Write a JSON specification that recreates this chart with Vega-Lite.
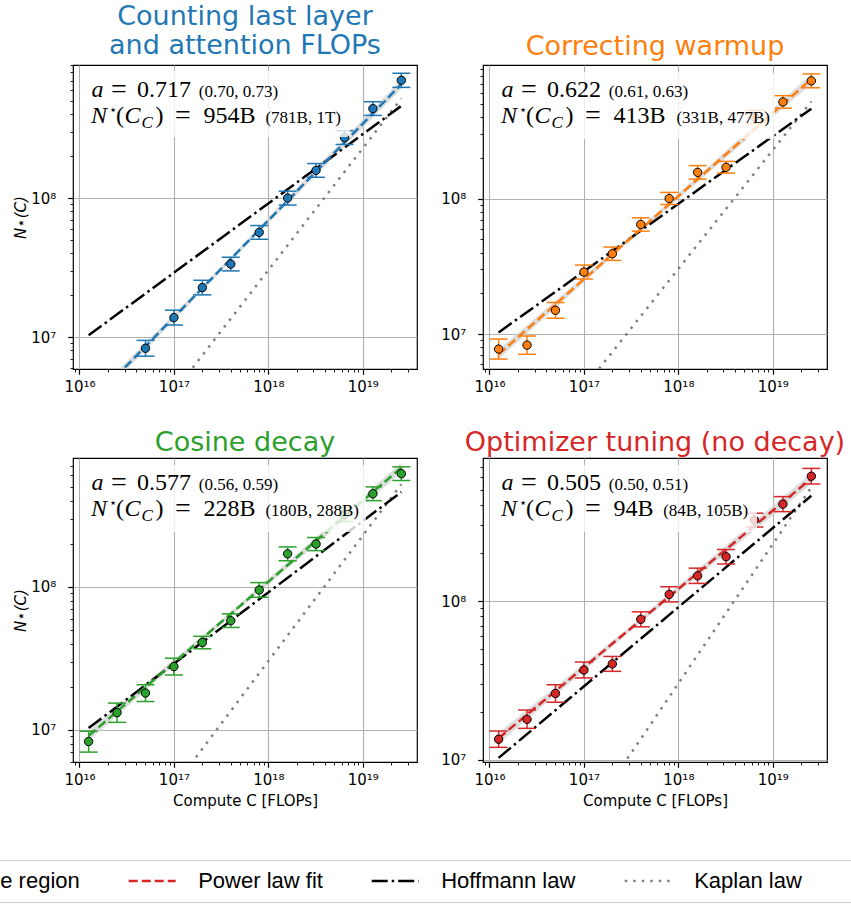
{
"$schema": "https://vega.github.io/schema/vega-lite/v6.json",
"padding": {"left": -167, "top": 2, "right": -9, "bottom": 0},
"background": "white",
"config": {
 "font": "DejaVu Sans",
 "view": {"stroke": "black", "strokeWidth": 1.2},
 "axis": {"domain": false, "labelFont": "DejaVu Sans", "labelFontSize": 15, "labelColor": "black", "tickColor": "black", "gridColor": "#b0b0b0", "gridWidth": 1.1, "labelPadding": 5, "labelFlush": false, "labelOverlap": false, "titleFont": "DejaVu Sans", "titleFontSize": 15, "titleFontWeight": "normal", "titleColor": "black"},
 "axisY": {"titlePadding": 2, "labelPadding": 12},
 "axisX": {"titlePadding": 6},
 "title": {"font": "DejaVu Sans", "fontSize": 27, "fontWeight": "normal", "anchor": "middle", "offset": 1, "lineHeight": 29},
 "text": {"font": "Liberation Serif", "fontSize": 24, "align": "left", "baseline": "alphabetic", "color": "black"}
},
"datasets": {
 "pts": [
  {"panel":1,"C":5e16,"N":8.3e6,"lo":7.28e6,"hi":9.46e6},
  {"panel":1,"C":1e17,"N":1.38e7,"lo":1.22e7,"hi":1.56e7},
  {"panel":1,"C":2e17,"N":2.27e7,"lo":2.01e7,"hi":2.56e7},
  {"panel":1,"C":4e17,"N":3.35e7,"lo":2.99e7,"hi":3.75e7},
  {"panel":1,"C":8e17,"N":5.66e7,"lo":5.05e7,"hi":6.34e7},
  {"panel":1,"C":1.6e18,"N":1.0e8,"lo":8.9e7,"hi":1.12e8},
  {"panel":1,"C":3.2e18,"N":1.58e8,"lo":1.41e8,"hi":1.77e8},
  {"panel":1,"C":6.4e18,"N":2.72e8,"lo":2.43e8,"hi":3.05e8},
  {"panel":1,"C":1.28e19,"N":4.4e8,"lo":3.93e8,"hi":4.93e8},
  {"panel":1,"C":2.56e19,"N":7.03e8,"lo":6.25e8,"hi":7.9e8},
  {"panel":2,"C":1.25e16,"N":7.76e6,"lo":6.55e6,"hi":9.2e6},
  {"panel":2,"C":2.5e16,"N":8.3e6,"lo":7.11e6,"hi":9.69e6},
  {"panel":2,"C":5e16,"N":1.5e7,"lo":1.31e7,"hi":1.71e7},
  {"panel":2,"C":1e17,"N":2.87e7,"lo":2.55e7,"hi":3.23e7},
  {"panel":2,"C":2e17,"N":3.92e7,"lo":3.5e7,"hi":4.39e7},
  {"panel":2,"C":4e17,"N":6.44e7,"lo":5.75e7,"hi":7.21e7},
  {"panel":2,"C":8e17,"N":1.0e8,"lo":9.04e7,"hi":1.11e8},
  {"panel":2,"C":1.6e18,"N":1.56e8,"lo":1.39e8,"hi":1.75e8},
  {"panel":2,"C":3.2e18,"N":1.7e8,"lo":1.54e8,"hi":1.88e8},
  {"panel":2,"C":6.4e18,"N":4.0e8,"lo":3.57e8,"hi":4.48e8},
  {"panel":2,"C":1.28e19,"N":5.16e8,"lo":4.64e8,"hi":5.74e8},
  {"panel":2,"C":2.56e19,"N":7.38e8,"lo":6.56e8,"hi":8.3e8},
  {"panel":3,"C":1.25e16,"N":8.3e6,"lo":7.0e6,"hi":9.8e6},
  {"panel":3,"C":2.5e16,"N":1.32e7,"lo":1.13e7,"hi":1.54e7},
  {"panel":3,"C":5e16,"N":1.81e7,"lo":1.58e7,"hi":2.07e7},
  {"panel":3,"C":1e17,"N":2.77e7,"lo":2.42e7,"hi":3.17e7},
  {"panel":3,"C":2e17,"N":4.08e7,"lo":3.69e7,"hi":4.51e7},
  {"panel":3,"C":4e17,"N":5.8e7,"lo":5.2e7,"hi":6.47e7},
  {"panel":3,"C":8e17,"N":9.5e7,"lo":8.45e7,"hi":1.07e8},
  {"panel":3,"C":1.6e18,"N":1.7e8,"lo":1.52e8,"hi":1.9e8},
  {"panel":3,"C":3.2e18,"N":1.99e8,"lo":1.79e8,"hi":2.21e8},
  {"panel":3,"C":6.4e18,"N":3.2e8,"lo":2.86e8,"hi":3.58e8},
  {"panel":3,"C":1.28e19,"N":4.47e8,"lo":4.0e8,"hi":4.99e8},
  {"panel":3,"C":2.56e19,"N":6.17e8,"lo":5.53e8,"hi":6.89e8},
  {"panel":4,"C":1.25e16,"N":1.35e7,"lo":1.2e7,"hi":1.52e7},
  {"panel":4,"C":2.5e16,"N":1.8e7,"lo":1.58e7,"hi":2.06e7},
  {"panel":4,"C":5e16,"N":2.62e7,"lo":2.31e7,"hi":2.97e7},
  {"panel":4,"C":1e17,"N":3.68e7,"lo":3.28e7,"hi":4.13e7},
  {"panel":4,"C":2e17,"N":4.02e7,"lo":3.61e7,"hi":4.48e7},
  {"panel":4,"C":4e17,"N":7.67e7,"lo":6.88e7,"hi":8.55e7},
  {"panel":4,"C":8e17,"N":1.1e8,"lo":9.87e7,"hi":1.23e8},
  {"panel":4,"C":1.6e18,"N":1.44e8,"lo":1.29e8,"hi":1.61e8},
  {"panel":4,"C":3.2e18,"N":1.9e8,"lo":1.71e8,"hi":2.11e8},
  {"panel":4,"C":6.4e18,"N":3.23e8,"lo":2.92e8,"hi":3.57e8},
  {"panel":4,"C":1.28e19,"N":4.07e8,"lo":3.65e8,"hi":4.54e8},
  {"panel":4,"C":2.56e19,"N":6.1e8,"lo":5.45e8,"hi":6.83e8}
 ],
 "fits": [
  {"panel":1,"C":1.25e16,"N":3.26e6,"lo":3.01e6,"hi":3.53e6},
  {"panel":1,"C":3.2e17,"N":3.12e7,"lo":3.01e7,"hi":3.23e7},
  {"panel":1,"C":2.56e19,"N":6.59e8,"lo":6.08e8,"hi":7.14e8},
  {"panel":2,"C":1.25e16,"N":7.1e6,"lo":6.55e6,"hi":7.69e6},
  {"panel":2,"C":3.2e17,"N":5.18e7,"lo":5.0e7,"hi":5.36e7},
  {"panel":2,"C":2.56e19,"N":7.6e8,"lo":7.01e8,"hi":8.24e8},
  {"panel":3,"C":1.25e16,"N":9.1e6,"lo":8.39e6,"hi":9.86e6},
  {"panel":3,"C":3.2e17,"N":5.7e7,"lo":5.51e7,"hi":5.9e7},
  {"panel":3,"C":2.56e19,"N":6.8e8,"lo":6.27e8,"hi":7.37e8},
  {"panel":4,"C":1.25e16,"N":1.37e7,"lo":1.264e7,"hi":1.485e7},
  {"panel":4,"C":3.2e17,"N":6.79e7,"lo":6.56e7,"hi":7.03e7},
  {"panel":4,"C":2.56e19,"N":5.9e8,"lo":5.44e8,"hi":6.39e8}
 ],
 "laws": [
  {"law":"Hoffmann","C":1.25e16,"N":1.03e7},
  {"law":"Hoffmann","C":2.56e19,"N":4.6e8},
  {"law":"Kaplan","C":1.25e16,"N":6.5e5},
  {"law":"Kaplan","C":2.56e19,"N":5.2e8}
 ],
 "ann": [
  {"panel":1,"a":"0.717","aci":"(0.70, 0.73)","n":"954B","nci":"(781B, 1T)"},
  {"panel":2,"a":"0.622","aci":"(0.61, 0.63)","n":"413B","nci":"(331B, 477B)"},
  {"panel":3,"a":"0.577","aci":"(0.56, 0.59)","n":"228B","nci":"(180B, 288B)"},
  {"panel":4,"a":"0.505","aci":"(0.50, 0.51)","n":"94B","nci":"(84B, 105B)"}
 ],
 "legend": [
  {"series":"Confidence region","C":1e17,"N":1e8},
  {"series":"Power law fit","C":1e17,"N":1e8},
  {"series":"Hoffmann law","C":1e17,"N":1e8},
  {"series":"Kaplan law","C":1e17,"N":1e8}
 ]
},
"spacing": 33,
"vconcat": [
{"spacing": 22, "hconcat": [
{
 "width": 344, "height": 304,
 "title": {"text": ["Counting last layer", "and attention FLOPs"], "color": "#1f77b4", "offset": -2},
 "layer": [
  {"data": {"name": "fits"}, "transform": [{"filter": "datum.panel==1"}],
   "mark": {"type": "area", "color": "#cfcfcf", "opacity": 0.7, "clip": true},
   "encoding": {
    "x": {"field": "C", "type": "quantitative", "scale": {"type": "log", "domain": [8.54e15, 3.75e19], "nice": false},
     "axis": {"values": [9e15,1e16,2e16,3e16,4e16,5e16,6e16,7e16,8e16,9e16,1e17,2e17,3e17,4e17,5e17,6e17,7e17,8e17,9e17,1e18,2e18,3e18,4e18,5e18,6e18,7e18,8e18,9e18,1e19,2e19,3e19], "title": null,
      "labelExpr": "abs(log(datum.value)/LN10-round(log(datum.value)/LN10))<0.001 ? '10'+replace(replace(replace(replace(replace(replace(replace(replace(replace(replace(''+round(log(datum.value)/LN10),'0','⁰'),'1','¹'),'2','²'),'3','³'),'4','⁴'),'5','⁵'),'6','⁶'),'7','⁷'),'8','⁸'),'9','⁹') : ''",
      "tickSize": {"condition": {"test": "abs(log(datum.value)/LN10-round(log(datum.value)/LN10))<0.001", "value": 5.25}, "value": 3},
      "tickWidth": {"condition": {"test": "abs(log(datum.value)/LN10-round(log(datum.value)/LN10))<0.001", "value": 1.2}, "value": 0.9},
      "gridOpacity": {"condition": {"test": "abs(log(datum.value)/LN10-round(log(datum.value)/LN10))<0.001", "value": 1}, "value": 0}}},
    "y": {"field": "lo", "type": "quantitative", "scale": {"type": "log", "domain": [5.888e6, 9.057e8], "nice": false},
     "axis": {"values": [6e6,7e6,8e6,9e6,1e7,2e7,3e7,4e7,5e7,6e7,7e7,8e7,9e7,1e8,2e8,3e8,4e8,5e8,6e8,7e8,8e8,9e8], "title": "N⋆(C)", "titleFontStyle": "italic",
      "labelExpr": "abs(log(datum.value)/LN10-round(log(datum.value)/LN10))<0.001 ? '10'+replace(replace(replace(replace(replace(replace(replace(replace(replace(replace(''+round(log(datum.value)/LN10),'0','⁰'),'1','¹'),'2','²'),'3','³'),'4','⁴'),'5','⁵'),'6','⁶'),'7','⁷'),'8','⁸'),'9','⁹') : ''",
      "tickSize": {"condition": {"test": "abs(log(datum.value)/LN10-round(log(datum.value)/LN10))<0.001", "value": 5.25}, "value": 3},
      "tickWidth": {"condition": {"test": "abs(log(datum.value)/LN10-round(log(datum.value)/LN10))<0.001", "value": 1.2}, "value": 0.9},
      "gridOpacity": {"condition": {"test": "abs(log(datum.value)/LN10-round(log(datum.value)/LN10))<0.001", "value": 1}, "value": 0}}},
    "y2": {"field": "hi"}}},
  {"data": {"name": "laws"}, "transform": [{"filter": "datum.law=='Kaplan'"}],
   "mark": {"type": "line", "color": "#808080", "strokeWidth": 2.5, "strokeDash": [2.5, 6], "clip": true},
   "encoding": {"x": {"field": "C", "type": "quantitative"}, "y": {"field": "N", "type": "quantitative"}}},
  {"data": {"name": "laws"}, "transform": [{"filter": "datum.law=='Hoffmann'"}],
   "mark": {"type": "line", "color": "black", "strokeWidth": 2.5, "strokeDash": [16, 4, 2.5, 4], "clip": true},
   "encoding": {"x": {"field": "C", "type": "quantitative"}, "y": {"field": "N", "type": "quantitative"}}},
  {"data": {"name": "fits"}, "transform": [{"filter": "datum.panel==1"}],
   "mark": {"type": "line", "color": "#1f77b4", "strokeWidth": 2.5, "strokeDash": [9, 4], "clip": true},
   "encoding": {"x": {"field": "C", "type": "quantitative"}, "y": {"field": "N", "type": "quantitative"}}},
  {"data": {"name": "pts"}, "transform": [{"filter": "datum.panel==1"}],
   "encoding": {"x": {"field": "C", "type": "quantitative"}},
   "layer": [
    {"mark": {"type": "rule", "color": "#1f77b4", "strokeWidth": 1.5, "clip": true}, "encoding": {"y": {"field": "lo", "type": "quantitative"}, "y2": {"field": "hi"}}},
    {"mark": {"type": "tick", "orient": "horizontal", "color": "#1f77b4", "size": 18, "thickness": 1.5, "opacity": 1, "clip": true}, "encoding": {"y": {"field": "lo", "type": "quantitative"}}},
    {"mark": {"type": "tick", "orient": "horizontal", "color": "#1f77b4", "size": 18, "thickness": 1.5, "opacity": 1, "clip": true}, "encoding": {"y": {"field": "hi", "type": "quantitative"}}},
    {"mark": {"type": "circle", "fill": "#1f77b4", "stroke": "black", "strokeWidth": 1, "size": 70, "opacity": 1, "clip": true}, "encoding": {"y": {"field": "N", "type": "quantitative"}}}
   ]},
  {"data": {"name": "legend"},
   "mark": {"type": "line", "strokeWidth": 2.5},
   "encoding": {
    "x": {"field": "C", "type": "quantitative"},
    "y": {"field": "N", "type": "quantitative"},
    "color": {"field": "series", "type": "nominal", "scale": {"domain": ["Confidence region", "Power law fit", "Hoffmann law", "Kaplan law"], "range": ["#c8c8c8", "#d62728", "#000000", "#808080"]},
     "legend": {"orient": "none", "legendX": -238.8, "legendY": 795, "direction": "horizontal", "title": null, "symbolType": "M-2.5,0H2.5", "symbolSize": 353, "symbolStrokeWidth": 2.5, "labelFont": "Liberation Sans", "labelFontSize": 22, "labelColor": "black", "labelOffset": 35, "columnPadding": 43, "padding": 10, "strokeColor": "#cccccc", "fillColor": "white", "cornerRadius": 4, "labelLimit": 600, "labelExpr": "datum.label=='Kaplan law' ? 'Kaplan law\u00a0\u00a0\u00a0\u00a0\u00a0\u00a0\u00a0\u00a0\u200b' : datum.label"}},
    "strokeDash": {"field": "series", "type": "nominal", "scale": {"domain": ["Confidence region", "Power law fit", "Hoffmann law", "Kaplan law"], "range": [[1, 0], [9, 4], [16, 4, 2.5, 4], [2.5, 6]]},
     "legend": {"orient": "none", "legendX": -238.8, "legendY": 795, "direction": "horizontal", "title": null, "symbolType": "M-2.5,0H2.5", "symbolSize": 353, "symbolStrokeWidth": 2.5, "labelFont": "Liberation Sans", "labelFontSize": 22, "labelColor": "black", "labelOffset": 35, "columnPadding": 43, "padding": 10, "strokeColor": "#cccccc", "fillColor": "white", "cornerRadius": 4, "labelLimit": 600, "labelExpr": "datum.label=='Kaplan law' ? 'Kaplan law\u00a0\u00a0\u00a0\u00a0\u00a0\u00a0\u00a0\u00a0\u200b' : datum.label"}}}},
  {"data": {"values": [{}]},
   "mark": {"type": "rect", "fill": "white", "opacity": 0.8, "cornerRadius": 4},
   "encoding": {"x": {"datum": 1.14e16, "type": "quantitative"}, "x2": {"datum": 7.31e18}, "y": {"datum": 8.2e8, "type": "quantitative"}, "y2": {"datum": 2.75e8}}},
  {"data": {"name": "ann"}, "transform": [{"filter": "datum.panel==1"}],
   "encoding": {"x": {"datum": 1.339e16, "type": "quantitative"}},
   "layer": [
    {"encoding": {"y": {"datum": 5.30e8, "type": "quantitative"}}, "layer": [
     {"mark": {"type": "text", "text": "a", "fontStyle": "italic"}},
     {"mark": {"type": "text", "text": "=", "fontSize": 28, "dx": 19.5, "dy": 1}},
     {"mark": {"type": "text", "dx": 45.6}, "encoding": {"text": {"field": "a"}}},
     {"mark": {"type": "text", "dx": 107.3, "fontSize": 17}, "encoding": {"text": {"field": "aci"}}}
    ]},
    {"encoding": {"y": {"datum": 3.45e8, "type": "quantitative"}}, "layer": [
     {"mark": {"type": "text", "text": "N", "fontStyle": "italic", "dx": -0.5}},
     {"mark": {"type": "text", "text": "⋆", "fontSize": 13, "dx": 17.5, "dy": -9}},
     {"mark": {"type": "text", "text": "(", "dx": 24.5}},
     {"mark": {"type": "text", "text": "C", "fontStyle": "italic", "dx": 33}},
     {"mark": {"type": "text", "text": "C", "fontStyle": "italic", "fontSize": 17, "dx": 50, "dy": 5}},
     {"mark": {"type": "text", "text": ")", "dx": 64}},
     {"mark": {"type": "text", "text": "=", "fontSize": 28, "dx": 83.5, "dy": 1}},
     {"mark": {"type": "text", "dx": 112}, "encoding": {"text": {"field": "n"}}},
     {"mark": {"type": "text", "dx": 174, "fontSize": 17}, "encoding": {"text": {"field": "nci"}}}
    ]}
   ]}
 ]
},
{
 "width": 344, "height": 304,
 "title": {"text": "Correcting warmup", "color": "#ff7f0e"},
 "layer": [
  {"data": {"name": "fits"}, "transform": [{"filter": "datum.panel==2"}],
   "mark": {"type": "area", "color": "#cfcfcf", "opacity": 0.7, "clip": true},
   "encoding": {
    "x": {"field": "C", "type": "quantitative", "scale": {"type": "log", "domain": [8.54e15, 3.75e19], "nice": false},
     "axis": {"values": [9e15,1e16,2e16,3e16,4e16,5e16,6e16,7e16,8e16,9e16,1e17,2e17,3e17,4e17,5e17,6e17,7e17,8e17,9e17,1e18,2e18,3e18,4e18,5e18,6e18,7e18,8e18,9e18,1e19,2e19,3e19], "title": null,
      "labelExpr": "abs(log(datum.value)/LN10-round(log(datum.value)/LN10))<0.001 ? '10'+replace(replace(replace(replace(replace(replace(replace(replace(replace(replace(''+round(log(datum.value)/LN10),'0','⁰'),'1','¹'),'2','²'),'3','³'),'4','⁴'),'5','⁵'),'6','⁶'),'7','⁷'),'8','⁸'),'9','⁹') : ''",
      "tickSize": {"condition": {"test": "abs(log(datum.value)/LN10-round(log(datum.value)/LN10))<0.001", "value": 5.25}, "value": 3},
      "tickWidth": {"condition": {"test": "abs(log(datum.value)/LN10-round(log(datum.value)/LN10))<0.001", "value": 1.2}, "value": 0.9},
      "gridOpacity": {"condition": {"test": "abs(log(datum.value)/LN10-round(log(datum.value)/LN10))<0.001", "value": 1}, "value": 0}}},
    "y": {"field": "lo", "type": "quantitative", "scale": {"type": "log", "domain": [5.534e6, 9.66e8], "nice": false},
     "axis": {"values": [6e6,7e6,8e6,9e6,1e7,2e7,3e7,4e7,5e7,6e7,7e7,8e7,9e7,1e8,2e8,3e8,4e8,5e8,6e8,7e8,8e8,9e8], "title": null,
      "labelExpr": "abs(log(datum.value)/LN10-round(log(datum.value)/LN10))<0.001 ? '10'+replace(replace(replace(replace(replace(replace(replace(replace(replace(replace(''+round(log(datum.value)/LN10),'0','⁰'),'1','¹'),'2','²'),'3','³'),'4','⁴'),'5','⁵'),'6','⁶'),'7','⁷'),'8','⁸'),'9','⁹') : ''",
      "tickSize": {"condition": {"test": "abs(log(datum.value)/LN10-round(log(datum.value)/LN10))<0.001", "value": 5.25}, "value": 3},
      "tickWidth": {"condition": {"test": "abs(log(datum.value)/LN10-round(log(datum.value)/LN10))<0.001", "value": 1.2}, "value": 0.9},
      "gridOpacity": {"condition": {"test": "abs(log(datum.value)/LN10-round(log(datum.value)/LN10))<0.001", "value": 1}, "value": 0}}},
    "y2": {"field": "hi"}}},
  {"data": {"name": "laws"}, "transform": [{"filter": "datum.law=='Kaplan'"}],
   "mark": {"type": "line", "color": "#808080", "strokeWidth": 2.5, "strokeDash": [2.5, 6], "clip": true},
   "encoding": {"x": {"field": "C", "type": "quantitative"}, "y": {"field": "N", "type": "quantitative"}}},
  {"data": {"name": "laws"}, "transform": [{"filter": "datum.law=='Hoffmann'"}],
   "mark": {"type": "line", "color": "black", "strokeWidth": 2.5, "strokeDash": [16, 4, 2.5, 4], "clip": true},
   "encoding": {"x": {"field": "C", "type": "quantitative"}, "y": {"field": "N", "type": "quantitative"}}},
  {"data": {"name": "fits"}, "transform": [{"filter": "datum.panel==2"}],
   "mark": {"type": "line", "color": "#ff7f0e", "strokeWidth": 2.5, "strokeDash": [9, 4], "clip": true},
   "encoding": {"x": {"field": "C", "type": "quantitative"}, "y": {"field": "N", "type": "quantitative"}}},
  {"data": {"name": "pts"}, "transform": [{"filter": "datum.panel==2"}],
   "encoding": {"x": {"field": "C", "type": "quantitative"}},
   "layer": [
    {"mark": {"type": "rule", "color": "#ff7f0e", "strokeWidth": 1.5, "clip": true}, "encoding": {"y": {"field": "lo", "type": "quantitative"}, "y2": {"field": "hi"}}},
    {"mark": {"type": "tick", "orient": "horizontal", "color": "#ff7f0e", "size": 18, "thickness": 1.5, "opacity": 1, "clip": true}, "encoding": {"y": {"field": "lo", "type": "quantitative"}}},
    {"mark": {"type": "tick", "orient": "horizontal", "color": "#ff7f0e", "size": 18, "thickness": 1.5, "opacity": 1, "clip": true}, "encoding": {"y": {"field": "hi", "type": "quantitative"}}},
    {"mark": {"type": "circle", "fill": "#ff7f0e", "stroke": "black", "strokeWidth": 1, "size": 70, "opacity": 1, "clip": true}, "encoding": {"y": {"field": "N", "type": "quantitative"}}}
   ]},
  {"data": {"values": [{}]},
   "mark": {"type": "rect", "fill": "white", "opacity": 0.8, "cornerRadius": 4},
   "encoding": {"x": {"datum": 1.17e16, "type": "quantitative"}, "x2": {"datum": 1.05e19}, "y": {"datum": 8.57e8, "type": "quantitative"}, "y2": {"datum": 2.75e8}}},
  {"data": {"name": "ann"}, "transform": [{"filter": "datum.panel==2"}],
   "encoding": {"x": {"datum": 1.339e16, "type": "quantitative"}},
   "layer": [
    {"encoding": {"y": {"datum": 5.58e8, "type": "quantitative"}}, "layer": [
     {"mark": {"type": "text", "text": "a", "fontStyle": "italic"}},
     {"mark": {"type": "text", "text": "=", "fontSize": 28, "dx": 19.5, "dy": 1}},
     {"mark": {"type": "text", "dx": 45.6}, "encoding": {"text": {"field": "a"}}},
     {"mark": {"type": "text", "dx": 107.3, "fontSize": 17}, "encoding": {"text": {"field": "aci"}}}
    ]},
    {"encoding": {"y": {"datum": 3.59e8, "type": "quantitative"}}, "layer": [
     {"mark": {"type": "text", "text": "N", "fontStyle": "italic", "dx": -0.5}},
     {"mark": {"type": "text", "text": "⋆", "fontSize": 13, "dx": 17.5, "dy": -9}},
     {"mark": {"type": "text", "text": "(", "dx": 24.5}},
     {"mark": {"type": "text", "text": "C", "fontStyle": "italic", "dx": 33}},
     {"mark": {"type": "text", "text": "C", "fontStyle": "italic", "fontSize": 17, "dx": 50, "dy": 5}},
     {"mark": {"type": "text", "text": ")", "dx": 64}},
     {"mark": {"type": "text", "text": "=", "fontSize": 28, "dx": 83.5, "dy": 1}},
     {"mark": {"type": "text", "dx": 112}, "encoding": {"text": {"field": "n"}}},
     {"mark": {"type": "text", "dx": 175, "fontSize": 17}, "encoding": {"text": {"field": "nci"}}}
    ]}
   ]}
 ]
}
]},
{"spacing": 22, "hconcat": [
{
 "width": 344, "height": 304,
 "title": {"text": "Cosine decay", "color": "#2ca02c"},
 "layer": [
  {"data": {"name": "fits"}, "transform": [{"filter": "datum.panel==3"}],
   "mark": {"type": "area", "color": "#cfcfcf", "opacity": 0.7, "clip": true},
   "encoding": {
    "x": {"field": "C", "type": "quantitative", "scale": {"type": "log", "domain": [8.54e15, 3.75e19], "nice": false},
     "axis": {"values": [9e15,1e16,2e16,3e16,4e16,5e16,6e16,7e16,8e16,9e16,1e17,2e17,3e17,4e17,5e17,6e17,7e17,8e17,9e17,1e18,2e18,3e18,4e18,5e18,6e18,7e18,8e18,9e18,1e19,2e19,3e19], "title": "Compute C [FLOPs]",
      "labelExpr": "abs(log(datum.value)/LN10-round(log(datum.value)/LN10))<0.001 ? '10'+replace(replace(replace(replace(replace(replace(replace(replace(replace(replace(''+round(log(datum.value)/LN10),'0','⁰'),'1','¹'),'2','²'),'3','³'),'4','⁴'),'5','⁵'),'6','⁶'),'7','⁷'),'8','⁸'),'9','⁹') : ''",
      "tickSize": {"condition": {"test": "abs(log(datum.value)/LN10-round(log(datum.value)/LN10))<0.001", "value": 5.25}, "value": 3},
      "tickWidth": {"condition": {"test": "abs(log(datum.value)/LN10-round(log(datum.value)/LN10))<0.001", "value": 1.2}, "value": 0.9},
      "gridOpacity": {"condition": {"test": "abs(log(datum.value)/LN10-round(log(datum.value)/LN10))<0.001", "value": 1}, "value": 0}}},
    "y": {"field": "lo", "type": "quantitative", "scale": {"type": "log", "domain": [5.97e6, 7.943e8], "nice": false},
     "axis": {"values": [6e6,7e6,8e6,9e6,1e7,2e7,3e7,4e7,5e7,6e7,7e7,8e7,9e7,1e8,2e8,3e8,4e8,5e8,6e8,7e8], "title": "N⋆(C)", "titleFontStyle": "italic",
      "labelExpr": "abs(log(datum.value)/LN10-round(log(datum.value)/LN10))<0.001 ? '10'+replace(replace(replace(replace(replace(replace(replace(replace(replace(replace(''+round(log(datum.value)/LN10),'0','⁰'),'1','¹'),'2','²'),'3','³'),'4','⁴'),'5','⁵'),'6','⁶'),'7','⁷'),'8','⁸'),'9','⁹') : ''",
      "tickSize": {"condition": {"test": "abs(log(datum.value)/LN10-round(log(datum.value)/LN10))<0.001", "value": 5.25}, "value": 3},
      "tickWidth": {"condition": {"test": "abs(log(datum.value)/LN10-round(log(datum.value)/LN10))<0.001", "value": 1.2}, "value": 0.9},
      "gridOpacity": {"condition": {"test": "abs(log(datum.value)/LN10-round(log(datum.value)/LN10))<0.001", "value": 1}, "value": 0}}},
    "y2": {"field": "hi"}}},
  {"data": {"name": "laws"}, "transform": [{"filter": "datum.law=='Kaplan'"}],
   "mark": {"type": "line", "color": "#808080", "strokeWidth": 2.5, "strokeDash": [2.5, 6], "clip": true},
   "encoding": {"x": {"field": "C", "type": "quantitative"}, "y": {"field": "N", "type": "quantitative"}}},
  {"data": {"name": "laws"}, "transform": [{"filter": "datum.law=='Hoffmann'"}],
   "mark": {"type": "line", "color": "black", "strokeWidth": 2.5, "strokeDash": [16, 4, 2.5, 4], "clip": true},
   "encoding": {"x": {"field": "C", "type": "quantitative"}, "y": {"field": "N", "type": "quantitative"}}},
  {"data": {"name": "fits"}, "transform": [{"filter": "datum.panel==3"}],
   "mark": {"type": "line", "color": "#2ca02c", "strokeWidth": 2.5, "strokeDash": [9, 4], "clip": true},
   "encoding": {"x": {"field": "C", "type": "quantitative"}, "y": {"field": "N", "type": "quantitative"}}},
  {"data": {"name": "pts"}, "transform": [{"filter": "datum.panel==3"}],
   "encoding": {"x": {"field": "C", "type": "quantitative"}},
   "layer": [
    {"mark": {"type": "rule", "color": "#2ca02c", "strokeWidth": 1.5, "clip": true}, "encoding": {"y": {"field": "lo", "type": "quantitative"}, "y2": {"field": "hi"}}},
    {"mark": {"type": "tick", "orient": "horizontal", "color": "#2ca02c", "size": 18, "thickness": 1.5, "opacity": 1, "clip": true}, "encoding": {"y": {"field": "lo", "type": "quantitative"}}},
    {"mark": {"type": "tick", "orient": "horizontal", "color": "#2ca02c", "size": 18, "thickness": 1.5, "opacity": 1, "clip": true}, "encoding": {"y": {"field": "hi", "type": "quantitative"}}},
    {"mark": {"type": "circle", "fill": "#2ca02c", "stroke": "black", "strokeWidth": 1, "size": 70, "opacity": 1, "clip": true}, "encoding": {"y": {"field": "N", "type": "quantitative"}}}
   ]},
  {"data": {"values": [{}]},
   "mark": {"type": "rect", "fill": "white", "opacity": 0.8, "cornerRadius": 4},
   "encoding": {"x": {"datum": 1.14e16, "type": "quantitative"}, "x2": {"datum": 1.08e19}, "y": {"datum": 7.1e8, "type": "quantitative"}, "y2": {"datum": 2.42e8}}},
  {"data": {"name": "ann"}, "transform": [{"filter": "datum.panel==3"}],
   "encoding": {"x": {"datum": 1.339e16, "type": "quantitative"}},
   "layer": [
    {"encoding": {"y": {"datum": 4.72e8, "type": "quantitative"}}, "layer": [
     {"mark": {"type": "text", "text": "a", "fontStyle": "italic"}},
     {"mark": {"type": "text", "text": "=", "fontSize": 28, "dx": 19.5, "dy": 1}},
     {"mark": {"type": "text", "dx": 45.6}, "encoding": {"text": {"field": "a"}}},
     {"mark": {"type": "text", "dx": 107.3, "fontSize": 17}, "encoding": {"text": {"field": "aci"}}}
    ]},
    {"encoding": {"y": {"datum": 3.11e8, "type": "quantitative"}}, "layer": [
     {"mark": {"type": "text", "text": "N", "fontStyle": "italic", "dx": -0.5}},
     {"mark": {"type": "text", "text": "⋆", "fontSize": 13, "dx": 17.5, "dy": -9}},
     {"mark": {"type": "text", "text": "(", "dx": 24.5}},
     {"mark": {"type": "text", "text": "C", "fontStyle": "italic", "dx": 33}},
     {"mark": {"type": "text", "text": "C", "fontStyle": "italic", "fontSize": 17, "dx": 50, "dy": 5}},
     {"mark": {"type": "text", "text": ")", "dx": 64}},
     {"mark": {"type": "text", "text": "=", "fontSize": 28, "dx": 83.5, "dy": 1}},
     {"mark": {"type": "text", "dx": 112}, "encoding": {"text": {"field": "n"}}},
     {"mark": {"type": "text", "dx": 174, "fontSize": 17}, "encoding": {"text": {"field": "nci"}}}
    ]}
   ]}
 ]
},
{
 "width": 344, "height": 304,
 "title": {"text": "Optimizer tuning (no decay)", "color": "#d62728"},
 "layer": [
  {"data": {"name": "fits"}, "transform": [{"filter": "datum.panel==4"}],
   "mark": {"type": "area", "color": "#cfcfcf", "opacity": 0.7, "clip": true},
   "encoding": {
    "x": {"field": "C", "type": "quantitative", "scale": {"type": "log", "domain": [8.54e15, 3.75e19], "nice": false},
     "axis": {"values": [9e15,1e16,2e16,3e16,4e16,5e16,6e16,7e16,8e16,9e16,1e17,2e17,3e17,4e17,5e17,6e17,7e17,8e17,9e17,1e18,2e18,3e18,4e18,5e18,6e18,7e18,8e18,9e18,1e19,2e19,3e19], "title": "Compute C [FLOPs]",
      "labelExpr": "abs(log(datum.value)/LN10-round(log(datum.value)/LN10))<0.001 ? '10'+replace(replace(replace(replace(replace(replace(replace(replace(replace(replace(''+round(log(datum.value)/LN10),'0','⁰'),'1','¹'),'2','²'),'3','³'),'4','⁴'),'5','⁵'),'6','⁶'),'7','⁷'),'8','⁸'),'9','⁹') : ''",
      "tickSize": {"condition": {"test": "abs(log(datum.value)/LN10-round(log(datum.value)/LN10))<0.001", "value": 5.25}, "value": 3},
      "tickWidth": {"condition": {"test": "abs(log(datum.value)/LN10-round(log(datum.value)/LN10))<0.001", "value": 1.2}, "value": 0.9},
      "gridOpacity": {"condition": {"test": "abs(log(datum.value)/LN10-round(log(datum.value)/LN10))<0.001", "value": 1}, "value": 0}}},
    "y": {"field": "lo", "type": "quantitative", "scale": {"type": "log", "domain": [9.705e6, 7.943e8], "nice": false},
     "axis": {"values": [1e7,2e7,3e7,4e7,5e7,6e7,7e7,8e7,9e7,1e8,2e8,3e8,4e8,5e8,6e8,7e8], "title": null,
      "labelExpr": "abs(log(datum.value)/LN10-round(log(datum.value)/LN10))<0.001 ? '10'+replace(replace(replace(replace(replace(replace(replace(replace(replace(replace(''+round(log(datum.value)/LN10),'0','⁰'),'1','¹'),'2','²'),'3','³'),'4','⁴'),'5','⁵'),'6','⁶'),'7','⁷'),'8','⁸'),'9','⁹') : ''",
      "tickSize": {"condition": {"test": "abs(log(datum.value)/LN10-round(log(datum.value)/LN10))<0.001", "value": 5.25}, "value": 3},
      "tickWidth": {"condition": {"test": "abs(log(datum.value)/LN10-round(log(datum.value)/LN10))<0.001", "value": 1.2}, "value": 0.9},
      "gridOpacity": {"condition": {"test": "abs(log(datum.value)/LN10-round(log(datum.value)/LN10))<0.001", "value": 1}, "value": 0}}},
    "y2": {"field": "hi"}}},
  {"data": {"name": "laws"}, "transform": [{"filter": "datum.law=='Kaplan'"}],
   "mark": {"type": "line", "color": "#808080", "strokeWidth": 2.5, "strokeDash": [2.5, 6], "clip": true},
   "encoding": {"x": {"field": "C", "type": "quantitative"}, "y": {"field": "N", "type": "quantitative"}}},
  {"data": {"name": "laws"}, "transform": [{"filter": "datum.law=='Hoffmann'"}],
   "mark": {"type": "line", "color": "black", "strokeWidth": 2.5, "strokeDash": [16, 4, 2.5, 4], "clip": true},
   "encoding": {"x": {"field": "C", "type": "quantitative"}, "y": {"field": "N", "type": "quantitative"}}},
  {"data": {"name": "fits"}, "transform": [{"filter": "datum.panel==4"}],
   "mark": {"type": "line", "color": "#d62728", "strokeWidth": 2.5, "strokeDash": [9, 4], "clip": true},
   "encoding": {"x": {"field": "C", "type": "quantitative"}, "y": {"field": "N", "type": "quantitative"}}},
  {"data": {"name": "pts"}, "transform": [{"filter": "datum.panel==4"}],
   "encoding": {"x": {"field": "C", "type": "quantitative"}},
   "layer": [
    {"mark": {"type": "rule", "color": "#d62728", "strokeWidth": 1.5, "clip": true}, "encoding": {"y": {"field": "lo", "type": "quantitative"}, "y2": {"field": "hi"}}},
    {"mark": {"type": "tick", "orient": "horizontal", "color": "#d62728", "size": 18, "thickness": 1.5, "opacity": 1, "clip": true}, "encoding": {"y": {"field": "lo", "type": "quantitative"}}},
    {"mark": {"type": "tick", "orient": "horizontal", "color": "#d62728", "size": 18, "thickness": 1.5, "opacity": 1, "clip": true}, "encoding": {"y": {"field": "hi", "type": "quantitative"}}},
    {"mark": {"type": "circle", "fill": "#d62728", "stroke": "black", "strokeWidth": 1, "size": 70, "opacity": 1, "clip": true}, "encoding": {"y": {"field": "N", "type": "quantitative"}}}
   ]},
  {"data": {"values": [{}]},
   "mark": {"type": "rect", "fill": "white", "opacity": 0.8, "cornerRadius": 4},
   "encoding": {"x": {"datum": 1.17e16, "type": "quantitative"}, "x2": {"datum": 6.8e18}, "y": {"datum": 7.18e8, "type": "quantitative"}, "y2": {"datum": 2.72e8}}},
  {"data": {"name": "ann"}, "transform": [{"filter": "datum.panel==4"}],
   "encoding": {"x": {"datum": 1.339e16, "type": "quantitative"}},
   "layer": [
    {"encoding": {"y": {"datum": 4.98e8, "type": "quantitative"}}, "layer": [
     {"mark": {"type": "text", "text": "a", "fontStyle": "italic"}},
     {"mark": {"type": "text", "text": "=", "fontSize": 28, "dx": 19.5, "dy": 1}},
     {"mark": {"type": "text", "dx": 45.6}, "encoding": {"text": {"field": "a"}}},
     {"mark": {"type": "text", "dx": 107.3, "fontSize": 17}, "encoding": {"text": {"field": "aci"}}}
    ]},
    {"encoding": {"y": {"datum": 3.41e8, "type": "quantitative"}}, "layer": [
     {"mark": {"type": "text", "text": "N", "fontStyle": "italic", "dx": -0.5}},
     {"mark": {"type": "text", "text": "⋆", "fontSize": 13, "dx": 17.5, "dy": -9}},
     {"mark": {"type": "text", "text": "(", "dx": 24.5}},
     {"mark": {"type": "text", "text": "C", "fontStyle": "italic", "dx": 33}},
     {"mark": {"type": "text", "text": "C", "fontStyle": "italic", "fontSize": 17, "dx": 50, "dy": 5}},
     {"mark": {"type": "text", "text": ")", "dx": 64}},
     {"mark": {"type": "text", "text": "=", "fontSize": 28, "dx": 83.5, "dy": 1}},
     {"mark": {"type": "text", "dx": 112}, "encoding": {"text": {"field": "n"}}},
     {"mark": {"type": "text", "dx": 161.7, "fontSize": 17}, "encoding": {"text": {"field": "nci"}}}
    ]}
   ]}
 ]
}
]}
]
}
